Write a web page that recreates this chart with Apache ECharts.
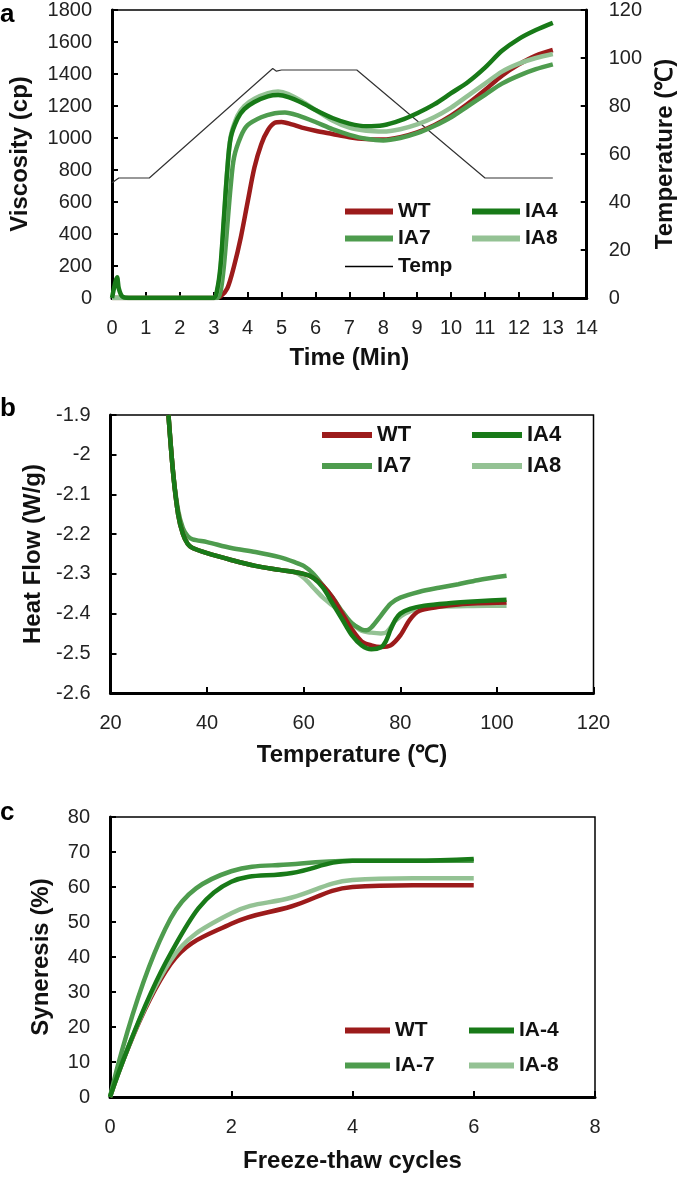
<!DOCTYPE html>
<html>
<head>
<meta charset="utf-8">
<script src="https://cdn.jsdelivr.net/npm/echarts@6/dist/echarts.min.js"></script>
<style>
html,body{margin:0;padding:0;background:#fff;}
#chart{width:685px;height:1180px;}
</style>
</head>
<body>
<div id="chart"></div>
<script>
// ---------- Panel a: viscosity (cp) vs time (min) ----------
const viscWT = [[0,0],[3.0,0],[3.2,10],[3.4,60],[3.6,200],[3.8,380],[4.0,600],[4.2,815],[4.4,960],[4.6,1050],[4.8,1095],[5.0,1100],[5.3,1085],[5.6,1065],[6.0,1045],[6.5,1025],[7.0,1005],[7.5,993],[8.0,990],[8.5,1005],[9.0,1035],[9.5,1080],[10.0,1140],[10.5,1215],[11.0,1300],[11.5,1390],[12.0,1460],[12.5,1515],[13.0,1550]];
const viscIA4 = [[0,0],[0.1,100],[0.15,130],[0.2,60],[0.3,10],[0.5,0],[3.0,0],[3.1,50],[3.2,200],[3.3,500],[3.4,800],[3.5,1000],[3.7,1120],[3.9,1180],[4.2,1225],[4.6,1260],[4.9,1268],[5.2,1255],[5.6,1220],[6.0,1175],[6.5,1125],[7.0,1090],[7.5,1073],[8.0,1080],[8.5,1110],[9.0,1155],[9.5,1210],[10.0,1280],[10.5,1350],[11.0,1440],[11.5,1545],[12.0,1620],[12.5,1675],[13.0,1720]];
const viscIA7 = [[0,0],[3.1,0],[3.2,40],[3.3,200],[3.4,450],[3.5,700],[3.6,880],[3.8,1010],[4.0,1080],[4.4,1130],[4.8,1155],[5.1,1160],[5.5,1140],[6.0,1100],[6.5,1055],[7.0,1020],[7.5,995],[8.0,985],[8.5,1000],[9.0,1030],[9.5,1075],[10.0,1130],[10.5,1200],[11.0,1270],[11.5,1340],[12.0,1390],[12.5,1430],[13.0,1460]];
const viscIA8 = [[0,0],[3.0,0],[3.1,40],[3.2,180],[3.3,480],[3.4,800],[3.5,1010],[3.7,1140],[3.9,1200],[4.2,1245],[4.6,1280],[4.9,1290],[5.2,1275],[5.6,1230],[6.0,1175],[6.5,1110],[7.0,1065],[7.5,1045],[8.0,1040],[8.5,1055],[9.0,1085],[9.5,1130],[10.0,1190],[10.5,1265],[11.0,1340],[11.5,1415],[12.0,1465],[12.5,1500],[13.0,1525]];
const tempProfile = [[0,48],[0.2,50],[1.1,50],[4.74,95.6],[4.85,94.5],[5.0,95],[7.22,95],[11.0,50],[13.0,50]];
const timeTicks = {min:0, max:14, interval:1};
const viscTicks = {min:0, max:1800, interval:200};
const tempTicks = {min:0, max:120, interval:20};

// ---------- Panel b: heat flow (W/g) vs temperature ----------
const hfWT = [[32,-1.9],[33,-2.05],[34,-2.15],[35,-2.2],[36,-2.225],[37,-2.235],[40,-2.248],[45,-2.265],[50,-2.28],[55,-2.29],[60,-2.3],[62,-2.31],[64,-2.33],[66,-2.36],[68,-2.40],[70,-2.44],[72,-2.47],[74,-2.48],[76,-2.484],[78,-2.48],[80,-2.455],[82,-2.415],[84,-2.393],[88,-2.383],[92,-2.377],[96,-2.374],[102,-2.372]];
const hfIA4 = [[32,-1.9],[33,-2.05],[34,-2.15],[35,-2.2],[36,-2.225],[37,-2.235],[40,-2.248],[45,-2.265],[50,-2.28],[55,-2.29],[60,-2.3],[62,-2.31],[64,-2.335],[66,-2.375],[68,-2.415],[70,-2.455],[72,-2.48],[74,-2.49],[76,-2.485],[77,-2.47],[78,-2.44],[79,-2.415],[80,-2.4],[82,-2.388],[85,-2.38],[90,-2.374],[96,-2.369],[102,-2.365]];
const hfIA7 = [[32,-1.9],[33,-2.05],[34,-2.14],[35,-2.185],[36,-2.205],[37,-2.213],[40,-2.22],[45,-2.235],[50,-2.245],[55,-2.258],[58,-2.27],[60,-2.28],[62,-2.3],[64,-2.33],[66,-2.36],[68,-2.395],[70,-2.425],[72,-2.44],[73,-2.442],[74,-2.435],[76,-2.405],[78,-2.375],[80,-2.36],[84,-2.345],[88,-2.335],[92,-2.326],[96,-2.316],[102,-2.305]];
const hfIA8 = [[32,-1.9],[33,-2.05],[34,-2.15],[35,-2.2],[36,-2.225],[37,-2.235],[40,-2.248],[45,-2.265],[50,-2.28],[55,-2.29],[58,-2.295],[60,-2.31],[62,-2.335],[64,-2.36],[66,-2.38],[68,-2.40],[70,-2.425],[72,-2.443],[74,-2.448],[76,-2.45],[77,-2.448],[78,-2.435],[79,-2.418],[81,-2.4],[84,-2.387],[88,-2.383],[95,-2.381],[102,-2.38]];
const tempAxisTicks = {min:20, max:120, interval:20};
const hfTicks = {min:-2.6, max:-1.9, interval:0.1};

// ---------- Panel c: syneresis (%) vs freeze-thaw cycles ----------
const cycles = [0,1,2,3,4,5,6];
const synWT  = [0,38,49.5,54.5,60,60.5,60.5];
const synIA4 = [0,41,61.5,64,67.5,67.5,68];
const synIA7 = [0,51,64.5,66.5,67.5,67.5,67.5];
const synIA8 = [0,39,52.5,57,62,62.5,62.5];
const cycleTicks = {min:0, max:8, interval:2};
const synTicks = {min:0, max:80, interval:10};

// ---------- styling ----------
const C = {WT:'#9c1b1b', IA4:'#187a18', IA7:'#4e9c4e', IA8:'#94c294', Temp:'#333333'};
const FONT = 'Liberation Sans, Arial, sans-serif';
const fmt = v => String(+(+v).toFixed(3));
const tickLabel = {fontFamily:FONT, fontSize:20, color:'#222', margin:20, formatter:fmt};
const nameStyle = {fontFamily:FONT, fontSize:24, fontWeight:'bold', color:'#111'};

function xAxisCfg(idx, t, name, gap){
  return {gridIndex:idx, type:'value', min:t.min, max:t.max, interval:t.interval,
    name:name, nameLocation:'middle', nameGap:gap, nameTextStyle:nameStyle,
    axisLine:{show:true, onZero:false, lineStyle:{color:'#000', width:3}},
    axisTick:{show:true, inside:true, length:6, lineStyle:{color:'#000', width:2}},
    axisLabel:tickLabel, splitLine:{show:false}};
}
function yAxisCfg(idx, t, name, gap, pos){
  return {gridIndex:idx, type:'value', min:t.min, max:t.max, interval:t.interval, position:pos||'left',
    name:name, nameLocation:'middle', nameGap:gap, nameTextStyle:nameStyle,
    axisLine:{show:true, onZero:false, lineStyle:{color:'#000', width:3}},
    axisTick:{show:true, inside:true, length:6, lineStyle:{color:'#000', width:2}},
    axisLabel:Object.assign({}, tickLabel, {margin:pos==='right'?22:20}), splitLine:{show:false}};
}
function line(name, data, xi, yi, color, w, smooth){
  return {name:name, type:'line', xAxisIndex:xi, yAxisIndex:yi, data:data, symbol:'none',
    smooth:smooth, lineStyle:{color:color, width:w}, itemStyle:{color:color}, z:3};
}
// one legend component per item so the two-column layout is exact
function legendItem(name, left, top, itemWidth, fs){
  const thin = name === 'Temp';
  return {left:left, top:top, orient:'horizontal', padding:0, selectedMode:false,
    itemWidth:itemWidth, itemHeight:thin ? 1.5 : 6, icon:'rect',
    data:[{name:name, itemStyle:{color: thin ? '#000' : undefined}}],
    textStyle:{fontFamily:FONT, fontSize:fs, fontWeight:'bold', color:'#111'}};
}

const chart = echarts.init(document.getElementById('chart'), null, {renderer:'canvas'});
const option = {
  animation:false,
  backgroundColor:'#fff',
  grid:[
    {left:112, top:8, width:484, height:290, show:true, borderColor:'#000', borderWidth:1.5},
    {left:110.5, top:415, width:483, height:278, show:true, borderColor:'#000', borderWidth:1.5},
    {left:110, top:817, width:485, height:280, show:true, borderColor:'#000', borderWidth:1.5}
  ],
  xAxis:[
    xAxisCfg(0, timeTicks, 'Time (Min)', 48),
    xAxisCfg(1, tempAxisTicks, 'Temperature (\u2103)', 50),
    xAxisCfg(2, cycleTicks, 'Freeze-thaw cycles', 52)
  ],
  yAxis:[
    yAxisCfg(0, viscTicks, 'Viscosity (cp)', 80),
    yAxisCfg(0, tempTicks, 'Temperature (\u2103)', 60, 'right'),
    yAxisCfg(1, hfTicks, 'Heat Flow (W/g)', 65),
    yAxisCfg(2, synTicks, 'Syneresis (%)', 57)
  ],
  legend:[
    legendItem('WT', 345, 201, 48, 21),
    legendItem('IA4', 472, 201, 48, 21),
    legendItem('IA7', 345, 228, 48, 21),
    legendItem('IA8', 472, 228, 48, 21),
    legendItem('Temp', 345, 256, 48, 21),
    legendItem('WT', 322, 424, 50, 22),
    legendItem('IA4', 472, 424, 50, 22),
    legendItem('IA7', 322, 455, 50, 22),
    legendItem('IA8', 472, 455, 50, 22),
    legendItem('WT', 345, 1020, 45, 21),
    legendItem('IA-4', 469, 1020, 45, 21),
    legendItem('IA-7', 345, 1055, 45, 21),
    legendItem('IA-8', 469, 1055, 45, 21)
  ],
  graphic:[
    {type:'text', left:0, top:2, style:{text:'a', font:'bold 26px '+FONT, fill:'#000'}},
    {type:'text', left:0, top:396, style:{text:'b', font:'bold 26px '+FONT, fill:'#000'}},
    {type:'text', left:0, top:800, style:{text:'c', font:'bold 26px '+FONT, fill:'#000'}}
  ],
  series:[
    line('Temp', tempProfile, 0, 1, C.Temp, 1.2, false),
    line('WT', viscWT, 0, 0, C.WT, 4.5, 0.3),
    line('IA7', viscIA7, 0, 0, C.IA7, 4.5, 0.3),
    line('IA8', viscIA8, 0, 0, C.IA8, 4.5, 0.3),
    line('IA4', viscIA4, 0, 0, C.IA4, 4.5, 0.3),

    line('IA8', hfIA8, 1, 2, C.IA8, 4.5, 0.3),
    line('IA7', hfIA7, 1, 2, C.IA7, 4.5, 0.3),
    line('WT', hfWT, 1, 2, C.WT, 4.5, 0.3),
    line('IA4', hfIA4, 1, 2, C.IA4, 4.5, 0.3),

    line('WT', cycles.map((c,i)=>[c, synWT[i]]), 2, 3, C.WT, 4.5, 0.4),
    line('IA-8', cycles.map((c,i)=>[c, synIA8[i]]), 2, 3, C.IA8, 4.5, 0.4),
    line('IA-7', cycles.map((c,i)=>[c, synIA7[i]]), 2, 3, C.IA7, 4.5, 0.4),
    line('IA-4', cycles.map((c,i)=>[c, synIA4[i]]), 2, 3, C.IA4, 4.5, 0.4)
  ]
};
chart.setOption(option);
</script>
</body>
</html>
